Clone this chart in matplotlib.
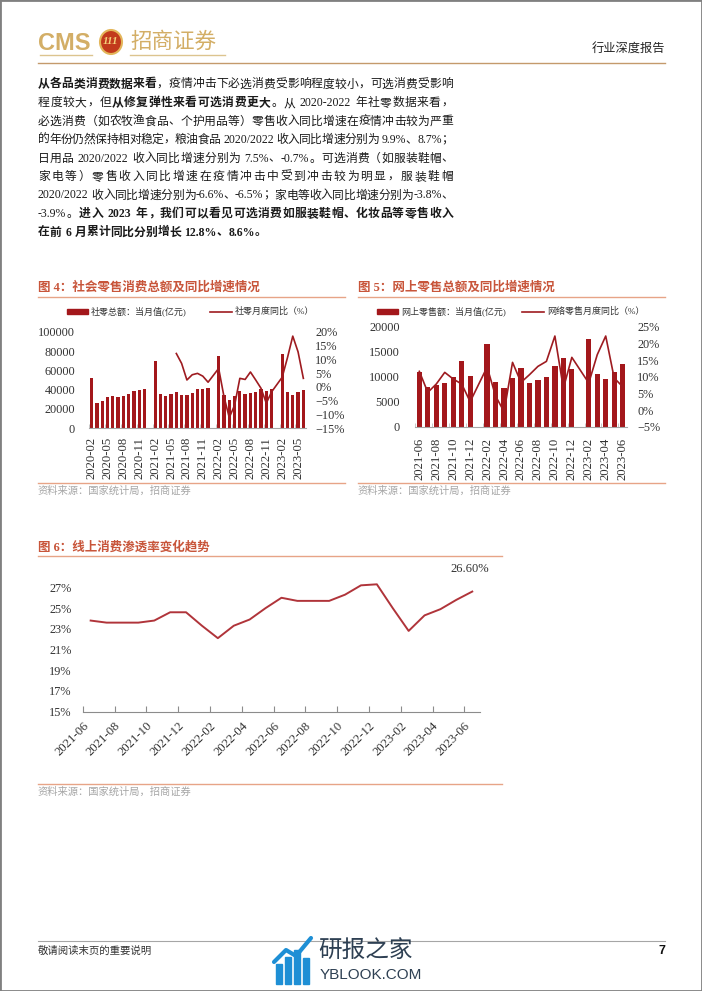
import numpy as np
import matplotlib
matplotlib.use('Agg')
import matplotlib.pyplot as plt
import matplotlib.patches as mpatches
from matplotlib.lines import Line2D

plt.rcParams['font.family'] = ['Liberation Serif', 'Noto Sans CJK SC']
plt.rcParams['axes.unicode_minus'] = False

nan = np.nan

# ---- data -------------------------------------------------------------
# fig 4: 2020-02 .. 2023-06 (January merged into February -> empty)
retail_total = [52130, 26450, 28178, 31973, 33526, 32203, 33571, 35295, 38576, 39514, 40566,
                nan, 69737, 35484, 33153, 35945, 37586, 34925, 34395, 36833, 40454, 41043, 41269,
                nan, 74426, 34233, 29483, 33547, 38742, 35870, 36258, 37745, 40271, 38615, 40542,
                nan, 77067, 37715, 34910, 37803, 39951]
retail_yoy = [nan, nan, nan, nan, nan, nan, nan, nan, nan, nan, nan,
              nan, nan, nan, nan, nan, 12.1, 8.5, 2.5, 4.4, 4.9, 3.9, 1.7,
              nan, 6.7, -3.5, -11.1, -6.7, 3.1, 2.7, 5.4, 2.5, -0.5, -5.9, -1.8,
              nan, 3.5, 10.6, 18.4, 12.7, 3.1]
retail_ticks = ['2020-02', '2020-05', '2020-08', '2020-11', '2021-02', '2021-05', '2021-08',
                '2021-11', '2022-02', '2022-05', '2022-08', '2022-11', '2023-02', '2023-05']

# fig 5: 2021-06 .. 2023-06
online_total = [11000, 7900, 8300, 8700, 9950, 13150, 10100, nan,
                16500, 8950, 7750, 9800, 11800, 8700, 9300, 9950, 12150, 13700, 11550, nan,
                17550, 10500, 9500, 10900, 12550]
online_yoy = [11.6, 5.3, 7.8, 11.3, 9.3, 7.8, 2.5, nan,
              12.9, 4.2, -0.5, 14.3, 8.3, 10.6, 13.1, 14.6, 22.2, 6.5, 15.8, nan,
              8.1, 16.6, 22.2, 9.6, 7.0]
online_ticks = ['2021-06', '2021-08', '2021-10', '2021-12', '2022-02', '2022-04', '2022-06',
                '2022-08', '2022-10', '2022-12', '2023-02', '2023-04', '2023-06']

# fig 6: online penetration rate (%)
penetration = [23.8, 23.6, 23.6, 23.6, 23.8, 24.6, 24.6, 23.3, 22.1, 23.3, 23.9, 25.0, 26.0,
               25.7, 25.7, 25.7, 26.3, 27.2, 27.3, 25.0, 22.8, 24.3, 24.9, 25.8, 26.6]

para = [
    [("从各品类消费数据来看", True), ("，疫情冲击下必选消费受影响程度较小，可选消费受影响", False)],
    [("程度较大，但", False), ("从修复弹性来看可选消费更大", True), ("。从 2020-2022 年社零数据来看，", False)],
    [("必选消费（如农牧渔食品、个护用品等）零售收入同比增速在疫情冲击较为严重", False)],
    [("的年份仍然保持相对稳定，粮油食品 2020/2022 收入同比增速分别为 9.9%、8.7%；", False)],
    [("日用品 2020/2022 收入同比增速分别为 7.5%、-0.7%。可选消费（如服装鞋帽、", False)],
    [("家电等）零售收入同比增速在疫情冲击中受到冲击较为明显，服装鞋帽", False)],
    [("2020/2022 收入同比增速分别为-6.6%、-6.5%；家电等收入同比增速分别为-3.8%、", False)],
    [("-3.9%。", False), ("进入 2023 年，我们可以看见可选消费如服装鞋帽、化妆品等零售收入", True)],
    [("在前 6 月累计同比分别增长 12.8%、8.6%。", True)],
]

# ---- style ------------------------------------------------------------
W, H = 702, 991
GOLD = '#D3AE66'
TITLE_C = '#C8553A'
RULE_C = '#E7A487'
BAR_C = '#A3171B'
LINE_C = '#9E1B20'
TXT = '#333333'
CJK = ['Noto Sans CJK SC', 'DejaVu Sans']

fig = plt.figure(figsize=(W / 100, H / 100), dpi=100)


def fx(x):
    return x / W


def fy(y):
    return 1 - y / H


def hline(x0, x1, y, color, lw=1.0):
    fig.add_artist(Line2D([fx(x0), fx(x1)], [fy(y), fy(y)], color=color, lw=lw,
                          transform=fig.transFigure))


def add_ax(left, top, right, bottom):
    return fig.add_axes([fx(left), fy(bottom), (right - left) / W, (bottom - top) / H])


# page frame
fig.add_artist(mpatches.Rectangle((0, 0), 1, 1, transform=fig.transFigure, fill=False,
                                  edgecolor='#808080', lw=2))

# ---- header -----------------------------------------------------------
fig.text(fx(38), fy(43), 'CMS', fontsize=17, color=GOLD, family='Liberation Sans',
         weight='bold', va='center', ha='left')
fig.add_artist(mpatches.Ellipse((fx(111), fy(42)), 22 / W, 24 / H, transform=fig.transFigure,
                                facecolor='#C23A1C', edgecolor='#E3B65A', lw=1.5))
fig.text(fx(111), fy(42), '111', fontsize=8, color='#F4D27A', weight='bold', style='italic',
         va='center', ha='center', family='Liberation Serif')
fig.text(fx(130), fy(42), '招商证券', fontsize=15.5, color=GOLD, family=CJK,
         va='center', ha='left')
hline(40, 92, 54.5, '#DCC48F', 1.0)
hline(130, 225, 54.5, '#DCC48F', 1.0)
fig.text(fx(665), fy(49), '行业深度报告', fontsize=8.8, color='#222222', family=CJK,
         va='center', ha='right')
hline(38, 665, 62.5, '#C49A6C', 1.0)

# ---- paragraph (justified, token by token) ----------------------------
BODY_FS = 8.5
EM = BODY_FS * 100 / 72
renderer = fig.canvas.get_renderer()
X0, X1 = 38, 453


def tokens(line):
    out = []
    for seg, bold in line:
        run = ''
        for ch in seg:
            if ch == ' ':
                if run:
                    out.append((run, bold, 'lat'))
                    run = ''
                out.append(('', bold, 'sp'))
            elif ord(ch) < 128:
                run += ch
            else:
                if run:
                    out.append((run, bold, 'lat'))
                    run = ''
                out.append((ch, bold, 'cjk'))
        if run:
            out.append((run, bold, 'lat'))
    return out


def tok_width(s, bold, kind):
    if kind == 'cjk':
        return EM
    if kind == 'sp':
        return EM * 0.3
    t = fig.text(0, 0, s, fontsize=BODY_FS, weight='bold' if bold else 'normal')
    w = t.get_window_extent(renderer).width
    t.remove()
    return w


for i, line in enumerate(para):
    y = 84.5 + i * 18.5
    toks = tokens(line)
    widths = [tok_width(*t) for t in toks]
    natural = sum(widths)
    gap = 0.0
    if i < len(para) - 1 and len(toks) > 1:
        gap = (X1 - X0 - natural) / (len(toks) - 1)
    x = X0
    for (s, bold, kind), w in zip(toks, widths):
        if s:
            fig.text(fx(x), fy(y), s, fontsize=BODY_FS, color='#1A1A1A',
                     weight='bold' if bold else 'normal', va='center', ha='left')
        x += w + gap


# ---- helpers for the two combo charts --------------------------------
def chart_frame(x0, x1, title, y_title, y_rule, y_src):
    fig.text(fx(x0), fy(y_title), title, fontsize=9, color=TITLE_C, weight='bold',
             va='center', ha='left')
    hline(x0, x1, y_rule, RULE_C, 1.0)
    hline(x0, x1, y_src - 8, RULE_C, 1.0)
    fig.text(fx(x0), fy(y_src), '资料来源：国家统计局，招商证券', fontsize=7.4,
             color='#A6A6A6', va='center', ha='left')


def legend(y, rect_x, lab1, line_x, lab2):
    fig.add_artist(mpatches.Rectangle((fx(rect_x), fy(y + 2.5)), 21 / W, 5 / H,
                                      transform=fig.transFigure, color=BAR_C))
    fig.text(fx(rect_x + 24), fy(y), lab1, fontsize=6.5, color=TXT, va='center', ha='left')
    fig.add_artist(Line2D([fx(line_x), fx(line_x + 22)], [fy(y), fy(y)], color=LINE_C, lw=1.2,
                          transform=fig.transFigure))
    fig.text(fx(line_x + 25), fy(y), lab2, fontsize=6.5, color=TXT, va='center', ha='left')


def combo(box, totals, yoy, ylim_l, yt_l, ylim_r, yt_r, step, labels, lpad, rpad, xpad):
    ax = add_ax(*box)
    totals = np.array(totals, dtype=float)
    yoy = np.array(yoy, dtype=float)
    x = np.arange(len(totals))
    ax.bar(x, totals, width=0.62, color=BAR_C, zorder=2)
    ax.set_xlim(-0.5, len(x) - 0.5)
    ax.set_ylim(*ylim_l)
    ax.set_yticks(yt_l, [str(v) for v in yt_l])
    for s in ['top', 'left', 'right']:
        ax.spines[s].set_visible(False)
    ax.spines['bottom'].set_color('#A6A6A6')
    ax.spines['bottom'].set_linewidth(0.8)
    ax.tick_params(axis='y', length=0, pad=lpad, labelsize=8.8, labelcolor=TXT)
    pos = np.arange(0, len(x), step)
    ax.set_xticks(pos, labels, rotation=90)
    ax.tick_params(axis='x', length=0, pad=xpad, labelsize=9.2, labelcolor=TXT)
    ax.set_xticks(pos - 0.5, minor=True)
    ax.tick_params(axis='x', which='minor', length=3, direction='in', color='#BFBFBF')
    ax.patch.set_alpha(0)

    ax2 = ax.twinx()
    m = ~np.isnan(yoy)
    ax2.plot(x[m], yoy[m], color=LINE_C, lw=1.2, zorder=3)
    ax2.set_ylim(*ylim_r)
    ax2.set_yticks(yt_r, [f'{v}%'.replace('-', '−') for v in yt_r])
    for s in ['top', 'left', 'right', 'bottom']:
        ax2.spines[s].set_visible(False)
    ax2.tick_params(axis='y', length=0, pad=rpad, labelsize=8.8, labelcolor=TXT)
    return ax, ax2


# ---- fig 4 ------------------------------------------------------------
chart_frame(38, 345, '图 4：社会零售消费总额及同比增速情况', 287, 296.5, 491)
legend(311.5, 67, '社零总额：当月值(亿元)', 210, '社零月度同比（%）')
combo((89.0, 331.7, 306.0, 428.3), retail_total, retail_yoy,
      (0, 100000), [0, 20000, 40000, 60000, 80000, 100000],
      (-15, 20), [-15, -10, -5, 0, 5, 10, 15, 20], 3, retail_ticks, 10, 6.5, 6)

# ---- fig 5 ------------------------------------------------------------
chart_frame(358, 665, '图 5：网上零售总额及同比增速情况', 287, 296.5, 491)
legend(311.5, 377, '网上零售额：当月值(亿元)', 522, '网络零售月度同比（%）')
combo((415.1, 326.7, 626.9, 426.7), online_total, online_yoy,
      (0, 20000), [0, 5000, 10000, 15000, 20000],
      (-5, 25), [-5, 0, 5, 10, 15, 20, 25], 2, online_ticks, 11, 7.5, 8)

# ---- fig 6 ------------------------------------------------------------
fig.text(fx(38), fy(547), '图 6：线上消费渗透率变化趋势', fontsize=9, color=TITLE_C,
         weight='bold', va='center', ha='left')
hline(38, 502, 555.5, RULE_C, 1.0)
hline(38, 502, 783.5, RULE_C, 1.0)
fig.text(fx(38), fy(791.5), '资料来源：国家统计局，招商证券', fontsize=7.4, color='#A6A6A6',
         va='center', ha='left')

ax6 = add_ax(82.7, 566.7, 480.2, 711.7)
x6 = np.arange(len(penetration))
ax6.plot(x6, penetration, color='#B0343A', lw=1.4)
ax6.set_xlim(-0.5, len(x6) - 0.5)
ax6.set_ylim(15, 29)
yt6 = [15, 17, 19, 21, 23, 25, 27]
ax6.set_yticks(yt6, [f'{v}%' for v in yt6])
for s in ['top', 'left', 'right']:
    ax6.spines[s].set_visible(False)
ax6.spines['bottom'].set_color('#8C8C8C')
ax6.tick_params(axis='y', length=0, pad=8, labelsize=8.8, labelcolor=TXT)
ax6.set_xticks(np.arange(0, len(x6), 2) - 0.5, online_ticks, rotation=45, ha='right',
               va='top', rotation_mode='anchor')
ax6.tick_params(axis='x', direction='in', length=4, color='#8C8C8C', pad=6,
                labelsize=9.2, labelcolor=TXT)
ax6.annotate('26.60%', (x6[-1], penetration[-1]), xytext=(-2, 12),
             textcoords='offset points', ha='center', va='bottom', fontsize=9, color=TXT)
ax6.patch.set_alpha(0)

# ---- footer -----------------------------------------------------------
hline(38, 665, 941, '#A6A6A6', 0.8)
fig.text(fx(38), fy(951), '敬请阅读末页的重要说明', fontsize=7.5, color=TXT, va='center',
         ha='left')
fig.text(fx(665), fy(951), '7', fontsize=9, color='#111111', weight='bold', va='center',
         ha='right', family='Liberation Sans')

# watermark logo
ICON = '#1E8FD5'
for bx, bh in zip([276, 285, 294, 303], [20, 27, 34, 26]):
    fig.add_artist(mpatches.Rectangle((fx(bx), fy(984)), 6 / W, bh / H,
                                      transform=fig.transFigure, color=ICON))
fig.add_artist(Line2D([fx(274), fx(286), fx(296), fx(311)], [fy(962), fy(950), fy(956), fy(938)],
                      color=ICON, lw=3, transform=fig.transFigure, solid_capstyle='round'))
fig.text(fx(318), fy(950), '研报之家', fontsize=17, color='#2E4053', family=CJK,
         va='center', ha='left')
fig.text(fx(320), fy(975), 'YBLOOK.COM', fontsize=11, color='#2E4053',
         family='Liberation Sans', va='center', ha='left')

fig.savefig('out.png', dpi=100)
